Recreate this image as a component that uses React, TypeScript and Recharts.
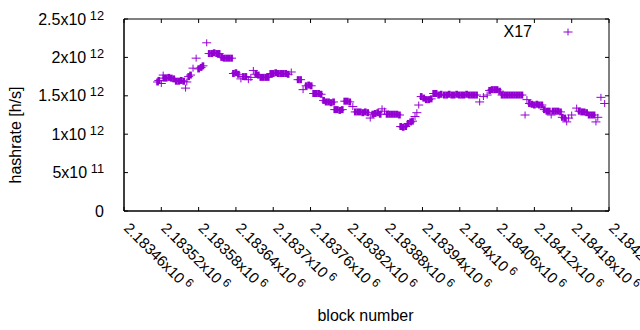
import { ReferenceArea, ReferenceLine, Scatter, ScatterChart, XAxis, YAxis } from 'recharts'

const PURPLE = '#9400d3'
const INK = '#000000'
const FONT = '"Liberation Sans", Arial, sans-serif'

// block numbers and hashrate (in units of 10^12 h/s)
const blocks = [
  2183514, 2183516, 2183520, 2183523, 2183524, 2183528, 2183532, 2183536, 2183540, 2183544,
  2183548, 2183552, 2183556, 2183559, 2183561, 2183564, 2183567, 2183571, 2183576, 2183580,
  2183584, 2183587, 2183593, 2183597, 2183601, 2183605, 2183609, 2183613, 2183617, 2183621,
  2183625, 2183629, 2183633, 2183636, 2183640, 2183644, 2183648, 2183652, 2183656, 2183660,
  2183664, 2183668, 2183672, 2183676, 2183680, 2183684, 2183688, 2183692, 2183696, 2183700,
  2183704, 2183708, 2183712, 2183716, 2183720, 2183724, 2183729, 2183740, 2183744, 2183748,
  2183753, 2183757, 2183761, 2183765, 2183769, 2183773, 2183777, 2183781, 2183785, 2183789,
  2183793, 2183797, 2183799, 2183803, 2183807, 2183811, 2183815, 2183819, 2183823, 2183828,
  2183832, 2183836, 2183840, 2183844, 2183848, 2183852, 2183856, 2183860, 2183864, 2183868,
  2183872, 2183875, 2183879, 2183883, 2183887, 2183891, 2183895, 2183899, 2183903, 2183905,
  2183909, 2183913, 2183917, 2183921, 2183924, 2183928, 2183931, 2183934, 2183938, 2183942,
  2183946, 2183950, 2183954, 2183958, 2183962, 2183966, 2183970, 2183975, 2183979, 2183983,
  2183987, 2183991, 2183995, 2183999, 2184003, 2184007, 2184011, 2184015, 2184019, 2184023,
  2184027, 2184032, 2184038, 2184044, 2184048, 2184052, 2184056, 2184060, 2184064, 2184068,
  2184072, 2184076, 2184080, 2184084, 2184088, 2184092, 2184096, 2184100, 2184105, 2184108,
  2184112, 2184116, 2184120, 2184124, 2184128, 2184132, 2184136, 2184140, 2184144, 2184147,
  2184150, 2184154, 2184158, 2184162, 2184165, 2184169, 2184172, 2184175, 2184180, 2184188,
  2184192, 2184196, 2184200, 2184204, 2184208, 2184212, 2184216, 2184219, 2184222, 2184227,
  2184233,
]
const hashrateT = [
  1.68, 1.7, 1.66, 1.77, 1.73, 1.73, 1.74, 1.73, 1.72, 1.69,
  1.69, 1.7, 1.69, 1.6, 1.68, 1.75, 1.77, 1.86, 1.99, 1.85,
  1.87, 1.89, 2.19, 2.05, 2.05, 2.06, 2.05, 2.05, 2.0, 1.99,
  1.99, 1.99, 1.99, 1.79, 1.8, 1.78, 1.72, 1.75, 1.75, 1.71,
  1.74, 1.83, 1.78, 1.77, 1.74, 1.74, 1.74, 1.74, 1.79, 1.79,
  1.8, 1.79, 1.79, 1.79, 1.79, 1.78, 1.81, 1.71, 1.71, 1.58,
  1.63, 1.64, 1.63, 1.53, 1.53, 1.53, 1.52, 1.44, 1.42, 1.42,
  1.41, 1.42, 1.32, 1.32, 1.31, 1.32, 1.43, 1.43, 1.42, 1.36,
  1.29, 1.29, 1.29, 1.28, 1.29, 1.28, 1.21, 1.26, 1.27, 1.28,
  1.26, 1.33, 1.3, 1.26, 1.26, 1.26, 1.26, 1.26, 1.25, 1.1,
  1.09, 1.1, 1.14, 1.16, 1.17, 1.23, 1.28, 1.38, 1.49, 1.47,
  1.45, 1.45, 1.46, 1.53, 1.53, 1.51, 1.52, 1.51, 1.51, 1.52,
  1.51, 1.51, 1.52, 1.51, 1.51, 1.51, 1.52, 1.51, 1.51, 1.51,
  1.51, 1.42, 1.49, 1.51, 1.57, 1.58, 1.58, 1.58, 1.56, 1.51,
  1.51, 1.51, 1.51, 1.51, 1.51, 1.51, 1.51, 1.51, 1.25, 1.45,
  1.4, 1.39, 1.38, 1.39, 1.38, 1.38, 1.32, 1.3, 1.3, 1.25,
  1.3, 1.3, 1.3, 1.29, 1.22, 1.21, 1.16, 1.21, 1.25, 1.34,
  1.3, 1.29, 1.29, 1.28, 1.25, 1.25, 1.25, 1.16, 1.22, 1.48,
  1.4,
]

const X_MIN = 2183460
const X_MAX = 2184240
const Y_MAX = 2.5

const xTicks = [
  2183460, 2183520, 2183580, 2183640, 2183700, 2183760, 2183820,
  2183880, 2183940, 2184000, 2184060, 2184120, 2184180, 2184240,
]
const xTickLabels = [
  '2.18346', '2.18352', '2.18358', '2.18364', '2.1837', '2.18376', '2.18382',
  '2.18388', '2.18394', '2.184', '2.18406', '2.18412', '2.18418', '2.18424',
]
const yTicks = [0, 0.5, 1, 1.5, 2, 2.5]
const yTickMantissa = ['0', '5', '1', '1.5', '2', '2.5']
const yTickExp = ['', '11', '12', '12', '12', '12']

// inward tick length (about 4px) in axis units
const TICK_DX = 6.4
const TICK_DY = 0.052

const points = blocks.map((block, i) => {
  const near = (j: number) =>
    j >= 0 && j < blocks.length && Math.abs(blocks[j] - block) <= 5 && Math.abs(hashrateT[j] - hashrateT[i]) <= 0.03
  return { block, hashrate: hashrateT[i], dense: near(i - 1) || near(i + 1) }
})

function Cross({ cx, cy, w }: { cx: number; cy: number; w: number }) {
  return (
    <g>
      <line x1={cx - 4.5} x2={cx + 4.5} y1={cy} y2={cy} stroke={PURPLE} strokeWidth={1} />
      <rect x={cx - w / 2} y={cy - 3.5} width={w} height={7} fill={PURPLE} />
    </g>
  )
}

function renderPoint(props: any) {
  const { cx, cy, payload } = props
  return <Cross cx={cx} cy={cy} w={payload.dense ? 2.7 : 1} />
}

function XTick(props: any) {
  const { x, y, index } = props
  return (
    <text
      transform={`translate(${x - 1},${y + 10}) rotate(45)`}
      fontFamily={FONT}
      fontSize={15}
      fill={INK}
      textAnchor="start"
    >
      {xTickLabels[index]}x10
      <tspan dy={-5} fontSize={12}>
        {' 6'}
      </tspan>
    </text>
  )
}

function YTick(props: any) {
  const { x, y, index } = props
  const exp = yTickExp[index]
  return (
    <text x={x - 12} y={y + 5.6} fontFamily={FONT} fontSize={16} fill={INK} textAnchor="end">
      {yTickMantissa[index]}
      {exp && 'x10'}
      {exp && (
        <tspan dy={-5} fontSize={12.8}>
          {' ' + exp}
        </tspan>
      )}
    </text>
  )
}

function XTitle(props: any) {
  const { x, y, width, height } = props.viewBox
  return (
    <text x={x + width / 2 - 1} y={y + height - 9} textAnchor="middle" fontFamily={FONT} fontSize={16} fill={INK}>
      block number
    </text>
  )
}

function YTitle(props: any) {
  const { x, y, height } = props.viewBox
  return (
    <text
      transform={`translate(${x + 21},${y + height / 2 + 20}) rotate(-90)`}
      textAnchor="middle"
      fontFamily={FONT}
      fontSize={16}
      fill={INK}
    >
      hashrate [h/s]
    </text>
  )
}

export default function App() {
  return (
    <div style={{ position: 'absolute', left: 0, top: 0, width: 640, height: 330 }}>
      <ScatterChart width={640} height={330} margin={{ top: 19, right: 31, bottom: 0, left: 0 }}>
        <XAxis
          xAxisId="b"
          type="number"
          dataKey="block"
          domain={[X_MIN, X_MAX]}
          ticks={xTicks}
          interval={0}
          height={119}
          stroke={INK}
          tickLine={false}
          tick={<XTick />}
          label={<XTitle />}
        />
        <YAxis
          yAxisId="l"
          type="number"
          dataKey="hashrate"
          domain={[0, Y_MAX]}
          ticks={yTicks}
          interval={0}
          width={124}
          stroke={INK}
          tickLine={false}
          tick={<YTick />}
          label={<YTitle />}
        />
        <ReferenceArea xAxisId="b" yAxisId="l" x1={X_MIN} x2={X_MAX} y1={0} y2={Y_MAX} fill="none" stroke={INK} />
        {xTicks.map((t) => (
          <ReferenceLine
            key={`xb${t}`}
            xAxisId="b"
            yAxisId="l"
            segment={[{ x: t, y: 0 }, { x: t, y: TICK_DY }]}
            stroke={INK}
          />
        ))}
        {xTicks.map((t) => (
          <ReferenceLine
            key={`xt${t}`}
            xAxisId="b"
            yAxisId="l"
            segment={[{ x: t, y: Y_MAX }, { x: t, y: Y_MAX - TICK_DY }]}
            stroke={INK}
          />
        ))}
        {yTicks.map((t) => (
          <ReferenceLine
            key={`yl${t}`}
            xAxisId="b"
            yAxisId="l"
            segment={[{ x: X_MIN, y: t }, { x: X_MIN + TICK_DX, y: t }]}
            stroke={INK}
          />
        ))}
        {yTicks.map((t) => (
          <ReferenceLine
            key={`yr${t}`}
            xAxisId="b"
            yAxisId="l"
            segment={[{ x: X_MAX, y: t }, { x: X_MAX - TICK_DX, y: t }]}
            stroke={INK}
          />
        ))}
        <Scatter
          name="X17"
          xAxisId="b"
          yAxisId="l"
          data={points}
          dataKey="hashrate"
          shape={renderPoint}
          isAnimationActive={false}
        />
      </ScatterChart>
      <div style={{ position: 'absolute', left: 480, top: 22, width: 100, height: 20 }}>
        <svg width={100} height={20}>
          <text x={52} y={15} textAnchor="end" fontFamily={FONT} fontSize={16} fill={INK}>
            X17
          </text>
          <Cross cx={88} cy={10} w={1} />
        </svg>
      </div>
    </div>
  )
}
